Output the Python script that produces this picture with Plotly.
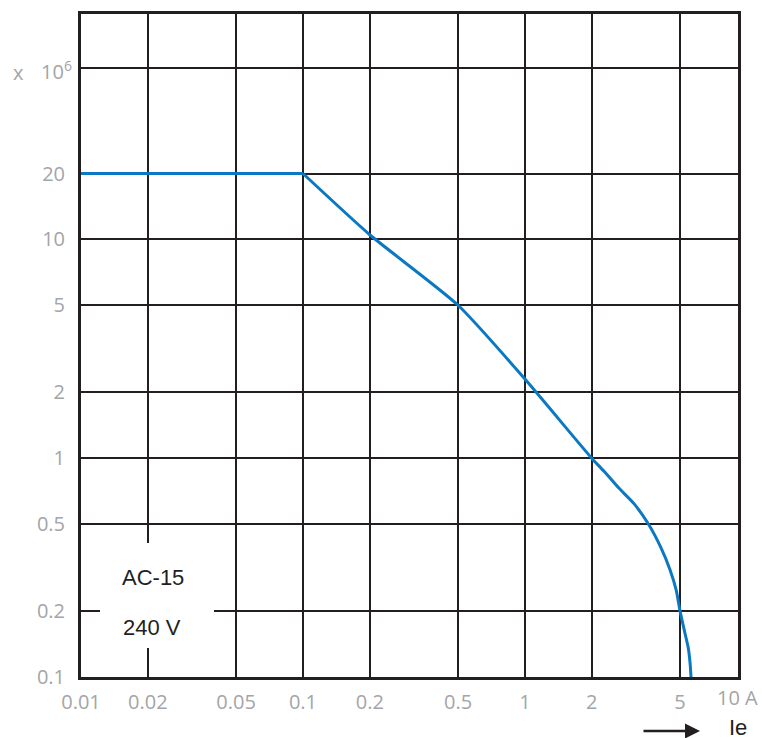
import plotly.graph_objects as go

# Data
current_A = [0.01, 0.1, 0.2, 0.5, 1.0, 2.0, 2.3, 2.65, 3.1, 3.6, 4.1, 4.5, 4.8, 5.0, 5.25, 5.45, 5.55, 5.6]
operations_1e6 = [20, 20, 10.5, 5, 2.3, 1.0, 0.86, 0.73, 0.62, 0.5, 0.39, 0.31, 0.25, 0.2, 0.16, 0.135, 0.115, 0.1]

x_ticks = [0.01, 0.02, 0.05, 0.1, 0.2, 0.5, 1, 2, 5]
x_tick_labels = ["0.01", "0.02", "0.05", "0.1", "0.2", "0.5", "1", "2", "5"]
y_ticks = [0.1, 0.2, 0.5, 1, 2, 5, 10, 20, 60.7]
y_tick_labels = ["0.1", "0.2", "0.5", "1", "2", "5", "10", "20", ""]

W, H = 762, 738
L, R, T, B = 81, 24, 14, 61
pw, ph = W - L - R, H - T - B

def px(x):
    return (x - L) / pw

def py(y):
    return (H - B - y) / ph

GRAY = "#a3a5a8"
FONT = "Open Sans"
DARK = "#231f20"
BLUE = "#0a78c2"

fig = go.Figure()
# flat plateau segment
fig.add_trace(go.Scatter(
    x=current_A[:2], y=operations_1e6[:2], mode="lines",
    line=dict(color=BLUE, width=3),
    showlegend=False, hoverinfo="skip"))
# falling curve
fig.add_trace(go.Scatter(
    x=current_A[1:], y=operations_1e6[1:], mode="lines",
    line=dict(color=BLUE, width=3, shape="spline", smoothing=0.6),
    showlegend=False, hoverinfo="skip"))

def ann(text, x, y, size, color, family, **kw):
    d = dict(text=text, xref="paper", yref="paper", x=px(x), y=py(y),
             xanchor="center", yanchor="middle", showarrow=False,
             font=dict(family=family, size=size, color=color))
    d.update(kw)
    return d

fig.update_layout(
    width=W, height=H,
    margin=dict(l=L, r=R, t=T, b=B),
    plot_bgcolor="white", paper_bgcolor="white",
    xaxis=dict(type="log", range=[-2, 0.96], tickvals=x_ticks, ticktext=x_tick_labels,
               showgrid=True, gridcolor=DARK, gridwidth=2,
               showline=True, mirror=True, linecolor=DARK, linewidth=3,
               ticks="", tickfont=dict(family=FONT, size=20, color=GRAY),
               ticklabelstandoff=5, zeroline=False),
    yaxis=dict(type="log", range=[-1, 2.03], tickvals=y_ticks, ticktext=y_tick_labels,
               showgrid=True, gridcolor=DARK, gridwidth=2,
               showline=True, mirror=True, linecolor=DARK, linewidth=3,
               ticks="", tickfont=dict(family=FONT, size=20, color=GRAY),
               ticklabelstandoff=9, zeroline=False),
    shapes=[dict(type="rect", xref="paper", yref="paper",
                 x0=px(100), x1=px(214), y0=py(648), y1=py(543),
                 fillcolor="white", line=dict(width=0), layer="above")],
    annotations=[
        ann("AC-15", 153, 577, 22, DARK, "Liberation Sans"),
        ann("240 V", 152, 627, 22, DARK, "Liberation Sans"),
        ann("x", 18, 72, 20, GRAY, FONT),
        ann("10<sup>6</sup>", 56, 70, 20, GRAY, FONT),
        ann("10 A", 737, 698, 20, GRAY, FONT),
        ann("Ie", 738, 727, 22, DARK, "Liberation Sans"),
        dict(text="", xref="paper", yref="paper", x=px(700), y=py(731),
             ax=-58, ay=0, axref="pixel", ayref="pixel",
             showarrow=True, arrowhead=2, arrowsize=1.2, arrowwidth=2.5, arrowcolor=DARK),
    ],
)

fig.write_html("out.html", config={"displayModeBar": False},
               post_script="document.body.style.margin='0';document.body.style.overflow='hidden';")
